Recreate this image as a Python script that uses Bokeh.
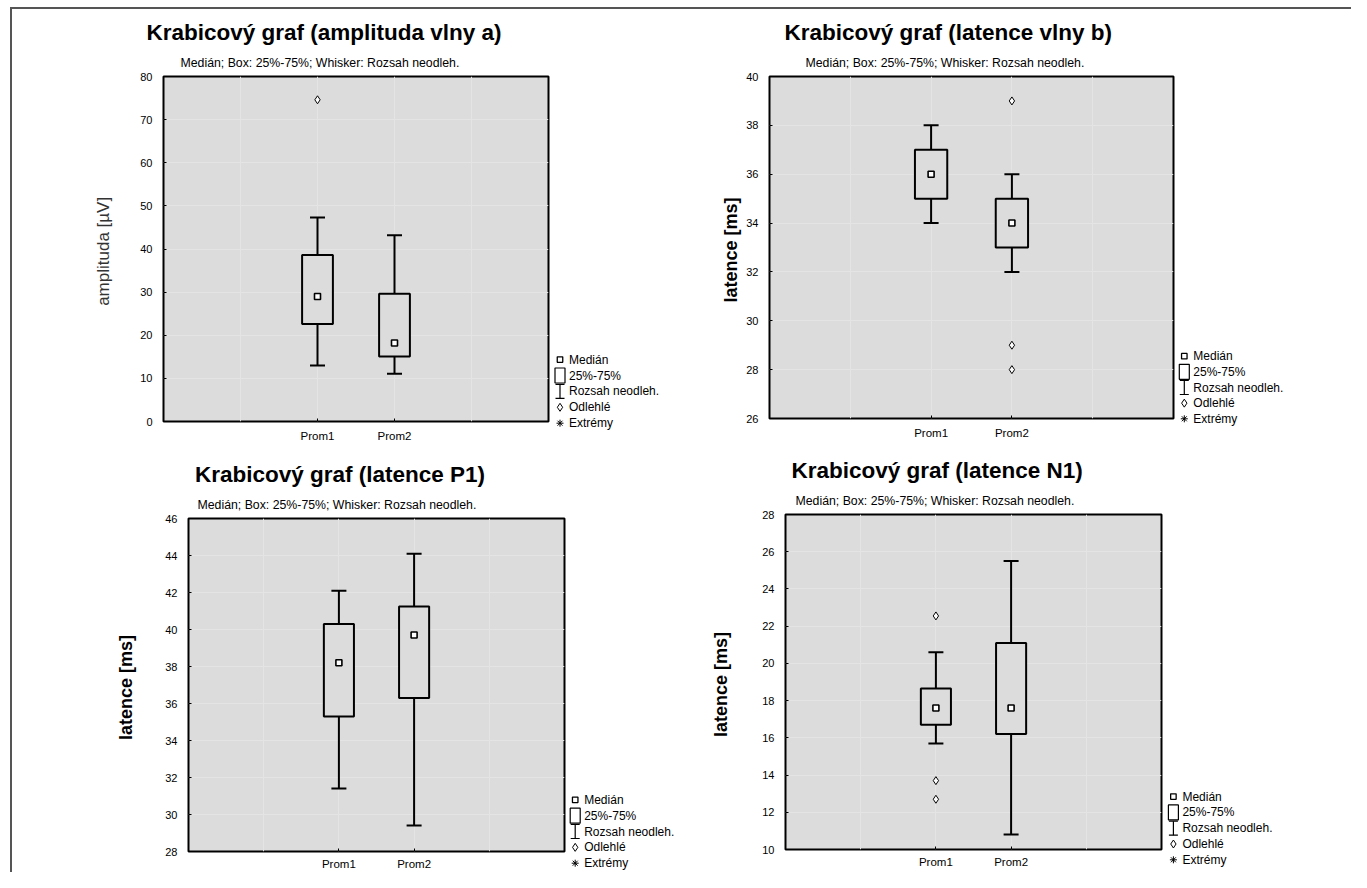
from bokeh.plotting import figure
from bokeh.layouts import row, column
from bokeh.models import (ColumnDataSource, Range1d, FixedTicker, SingleIntervalTicker,
                          Whisker, TeeHead, Title)
from bokeh.core.properties import value
from bokeh.embed import file_html
from bokeh.resources import INLINE

# ---------------- data ----------------
categories = ["Prom1", "Prom2"]

# Krabicový graf (amplituda vlny a)
a_low = [13.0, 11.1]
a_q1 = [22.6, 15.1]
a_med = [29.0, 18.2]
a_q3 = [38.6, 29.6]
a_high = [47.3, 43.2]
a_out_cat = ["Prom1"]
a_out_val = [74.6]

# Krabicový graf (latence vlny b)
b_low = [34.0, 32.0]
b_q1 = [35.0, 33.0]
b_med = [36.0, 34.0]
b_q3 = [37.0, 35.0]
b_high = [38.0, 36.0]
b_out_cat = ["Prom2", "Prom2", "Prom2"]
b_out_val = [39.0, 29.0, 28.0]

# Krabicový graf (latence P1)
p_low = [31.4, 29.4]
p_q1 = [35.3, 36.3]
p_med = [38.2, 39.7]
p_q3 = [40.3, 41.25]
p_high = [42.1, 44.1]
p_out_cat = []
p_out_val = []

# Krabicový graf (latence N1)
n_low = [15.7, 10.8]
n_q1 = [16.7, 16.2]
n_med = [17.6, 17.6]
n_q3 = [18.65, 21.1]
n_high = [20.6, 25.5]
n_out_cat = ["Prom1", "Prom1", "Prom1"]
n_out_val = [22.55, 13.7, 12.7]

subtitle_text = "Medián; Box: 25%-75%; Whisker: Rozsah neodleh."
legend_labels = ["Extrémy", "Odlehlé", "Rozsah neodleh.", "25%-75%", "Medián"]  # bottom -> top

FONT = "Liberation Sans"
BG = "#dcdcdc"
GRID = "#e4e4e4"
SLOTS = [1, 2, 3, 4]   # grid slots of the category axis (range 0..5)


def pos(cat):
    # category slot on the numeric axis (categories at slots 2 and 3)
    return categories.index(cat) + 2


def style_axis(ax, size, standoff):
    ax.axis_line_color = None
    ax.major_tick_in = 3
    ax.major_tick_out = 0
    ax.major_tick_line_color = "black"
    ax.major_tick_line_width = 1
    ax.minor_tick_line_color = None
    ax.major_label_text_font = FONT
    ax.major_label_text_color = "black"
    ax.major_label_text_font_size = size
    ax.major_label_standoff = standoff


def make_panel(title, ylabel, bold, y0, y1, step, low, q1, med, q3, high, out_cat, out_val,
               width, height, ml, mr, mt, mb, title_off, sub_off, lab_standoff, lab_size, xstand):
    p = figure(width=width, height=height, x_range=Range1d(0, 5), y_range=Range1d(y0, y1),
               output_backend="svg", toolbar_location=None,
               min_border_left=ml, min_border_right=mr, min_border_top=mt, min_border_bottom=mb)
    p.frame_align = False
    p.background_fill_color = BG
    p.border_fill_color = "white"
    p.outline_line_color = "black"
    p.outline_line_width = 2

    xs = [pos(c) for c in categories]
    src = ColumnDataSource(dict(x=xs, low=low, q1=q1, med=med, q3=q3, high=high))

    p.add_layout(Whisker(source=src, base="x", upper="high", lower="low",
                         line_color="black", line_width=2,
                         upper_head=TeeHead(size=15, line_color="black", line_width=2),
                         lower_head=TeeHead(size=15, line_color="black", line_width=2)))
    p.vbar(x="x", width=0.4, bottom="q1", top="q3", source=src,
           fill_color=BG, line_color="black", line_width=2)
    p.scatter(x="x", y="med", source=src, marker="square", size=6,
              fill_color="white", line_color="black", line_width=1.6)
    if out_cat:
        osrc = ColumnDataSource(dict(x=[pos(c) for c in out_cat], y=out_val))
        p.scatter(x="x", y="y", source=osrc, marker="diamond", size=8,
                  fill_color="white", line_color="black", line_width=1)

    # axes
    p.xaxis.ticker = FixedTicker(ticks=xs)
    p.xaxis.major_label_overrides = {x: c for x, c in zip(xs, categories)}
    p.xgrid.ticker = FixedTicker(ticks=SLOTS)
    p.yaxis.ticker = SingleIntervalTicker(interval=step)
    style_axis(p.xaxis[0], "11.5px", xstand)
    style_axis(p.yaxis[0], "11px", 7)

    p.yaxis[0].axis_label = ylabel
    p.yaxis[0].axis_label_text_font = FONT
    p.yaxis[0].axis_label_text_font_size = lab_size
    p.yaxis[0].axis_label_text_font_style = "bold" if bold else "normal"
    p.yaxis[0].axis_label_text_color = "black" if bold else "#333333"
    p.yaxis[0].axis_label_standoff = lab_standoff

    for g in (p.xgrid[0], p.ygrid[0]):
        g.grid_line_color = GRID
        g.grid_line_width = 1

    # subtitle first (closest to the frame), then the title above it
    p.add_layout(Title(text=subtitle_text, align="left", offset=sub_off,
                       text_font=FONT, text_font_size="12.3px", text_font_style="normal",
                       text_color="black", standoff=14), "above")
    p.add_layout(Title(text=title, align="left", offset=title_off,
                       text_font=FONT, text_font_size="22.5px", text_font_style="bold",
                       text_color="black", standoff=4), "above")
    return p


def make_legend(width, height, icon_x, bottom_y, step):
    lg = figure(width=width, height=height, x_range=Range1d(0, width), y_range=Range1d(0, height),
                output_backend="svg", toolbar_location=None, x_axis_type=None, y_axis_type=None,
                min_border_left=0, min_border_right=0, min_border_top=0, min_border_bottom=0)
    lg.frame_align = False
    lg.outline_line_color = None
    lg.background_fill_color = "white"
    lg.border_fill_color = "white"
    lg.grid.visible = False
    ys = [bottom_y + k * step for k in range(len(legend_labels))]
    lg.text(x=[icon_x + 9] * len(ys), y=ys, text=legend_labels,
            text_font=value(FONT), text_font_size=value("12px"), text_color="black",
            text_baseline="middle", text_align="left")
    # Medián
    lg.scatter(x=[icon_x], y=[ys[4]], marker="square", size=5.5,
               fill_color="white", line_color="black", line_width=1.3)
    # 25%-75%
    lg.rect(x=[icon_x], y=[ys[3]], width=10, height=15, fill_alpha=0,
            line_color="black", line_width=1.2)
    # Rozsah neodleh.
    wy = ys[2]
    lg.segment(x0=[icon_x, icon_x - 4.5, icon_x - 4.5], y0=[wy - 7, wy + 7, wy - 7],
               x1=[icon_x, icon_x + 4.5, icon_x + 4.5], y1=[wy + 7, wy + 7, wy - 7],
               line_color="black", line_width=1.2)
    # Odlehlé
    lg.scatter(x=[icon_x], y=[ys[1]], marker="diamond", size=8,
               fill_color="white", line_color="black", line_width=1)
    # Extrémy
    lg.scatter(x=[icon_x], y=[ys[0]], marker="asterisk", size=7,
               line_color="black", line_width=1)
    return lg


# top row: height 435 ; bottom row: height 428
p1 = make_panel("Krabicový graf (amplituda vlny a)", "amplituda  [µV]", False, 0, 80, 10,
                a_low, a_q1, a_med, a_q3, a_high, a_out_cat, a_out_val,
                538, 435, 151, 2, 67, 21, -17, 17, 24, "17px", 8)
p2 = make_panel("Krabicový graf (latence vlny b)", "latence  [ms]", True, 26, 40, 2,
                b_low, b_q1, b_med, b_q3, b_high, b_out_cat, b_out_val,
                495, 435, 89, 2, 67, 26, 15, 36, 2, "18px", 8)
p3 = make_panel("Krabicový graf (latence P1)", "latence  [ms]", True, 28, 46, 2,
                p_low, p_q1, p_med, p_q3, p_high, p_out_cat, p_out_val,
                554, 428, 176, 2, 74, 19, 6.5, 9, 26, "18px", 6)
p4 = make_panel("Krabicový graf (latence N1)", "latence  [ms]", True, 10, 28, 2,
                n_low, n_q1, n_med, n_q3, n_high, n_out_cat, n_out_val,
                483, 428, 105, 2, 70, 23, 6, 10, 28, "18px", 6)

lg1 = make_legend(130, 435, 9.5, 21.3, 15.9)
lg2 = make_legend(176, 435, 8.8, 25.7, 15.65)
lg3 = make_legend(114, 428, 8.7, 9.3, 15.85)
lg4 = make_legend(188, 428, 9.9, 12.7, 15.8)

inner = column(row(p1, lg1, p2, lg2), row(p3, lg3, p4, lg4),
               styles={"border-top": "2px solid #555555", "border-left": "2px solid #555555"})
layout = column(inner, styles={"padding-top": "7px", "padding-left": "10px"})

open("out.html", "w").write(file_html(layout, INLINE))
